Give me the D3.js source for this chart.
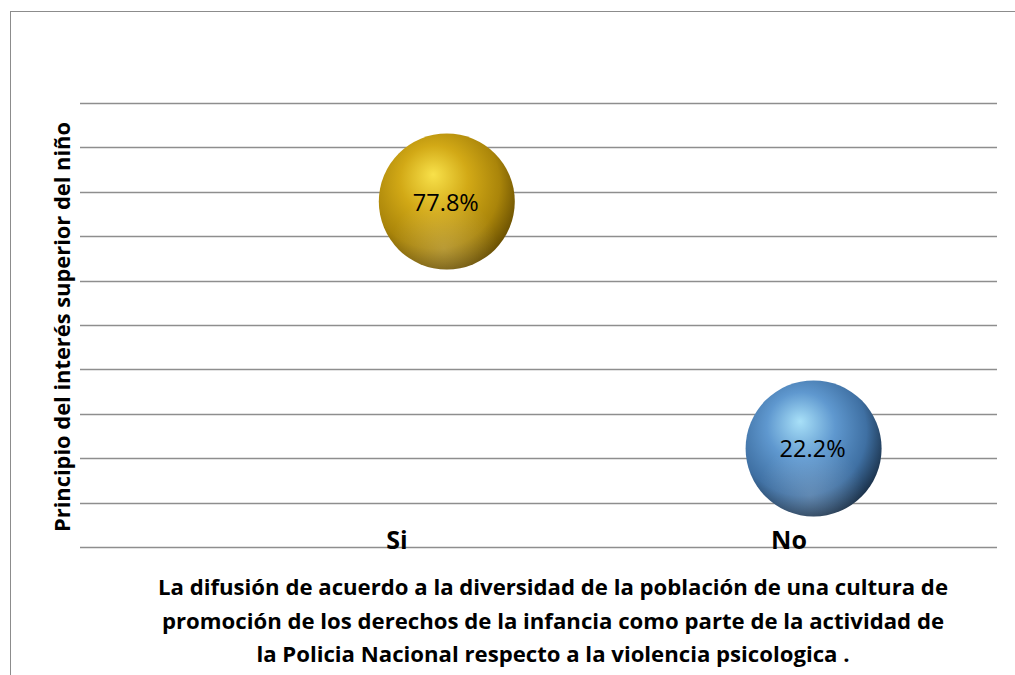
<!DOCTYPE html>
<html>
<head>
  <meta charset='utf-8'>
  <title>bubble chart</title>
  <script src="https://cdn.jsdelivr.net/npm/d3@7"></script>
  <style>
    html, body { margin: 0; padding: 0; background: #fff; }
    text { font-family: "Open Sans", Lato, sans-serif; }
  </style>
</head>
<body>
<svg id="chart" width="1015" height="675"></svg>
<script>
var categories = ['Si', 'No'];
var xPositions = [1, 2];
var labelPositions = [0.864, 1.933];
var values = [0.778, 0.222];
var labels = ['77.8%', '22.2%'];
var gridTicks = d3.range(0, 1.01, 0.1);
var titleLines = [
  'La difusión de acuerdo a la diversidad de la población de una cultura de',
  'promoción de los derechos de la infancia como parte de la actividad de',
  'la Policia Nacional respecto a la violencia psicologica .'
];
var yTitle = 'Principio del interés superior del niño';

var svg = d3.select('#chart');
var width = 1015, height = 675;
var margin = {top: 103, right: 18, bottom: 128, left: 80};

// shrink or grow a text element so it spans the wanted width
function fitWidth(sel, target) {
  sel.each(function() {
    var el = d3.select(this);
    var fs = parseFloat(el.attr('font-size'));
    var w = this.getComputedTextLength();
    el.attr('font-size', (fs * target / w).toFixed(2));
  });
}

// chart frame
svg.append('rect')
  .attr('x', 10.5).attr('y', 11.5)
  .attr('width', 1100).attr('height', 800)
  .attr('fill', 'none')
  .attr('stroke', '#8c8c8c')
  .attr('stroke-width', 1);

var x = d3.scaleLinear().domain([0, 2.5]).range([margin.left, width - margin.right]);
var y = d3.scaleLinear().domain([0, 1]).range([height - margin.bottom, margin.top]);

var g = svg.append('g');
g.selectAll('.grid')
  .data(gridTicks)
  .enter().append('line')
  .attr('class', 'grid')
  .attr('x1', x(0)).attr('x2', x(2.5))
  .attr('y1', d => Math.round(y(d)) + 0.5)
  .attr('y2', d => Math.round(y(d)) + 0.5)
  .attr('stroke', '#8e8e8e')
  .attr('stroke-width', 1.3);

// sphere gradients
var defs = svg.append('defs');
var palettes = [
  ['#f8e14a', '#d2a916', '#aa850a', '#5e4600'],
  ['#a8e0f8', '#5f98cf', '#3f70a3', '#14263a']
];
palettes.forEach(function(p, i) {
  var grad = defs.append('radialGradient')
    .attr('id', 'sph' + i)
    .attr('cx', '0.42').attr('cy', '0.4').attr('r', '0.66')
    .attr('fx', '0.4').attr('fy', '0.3');
  grad.append('stop').attr('offset', '0%').attr('stop-color', p[0]);
  grad.append('stop').attr('offset', '38%').attr('stop-color', p[1]);
  grad.append('stop').attr('offset', '72%').attr('stop-color', p[2]);
  grad.append('stop').attr('offset', '100%').attr('stop-color', p[3]);
});
var refl = defs.append('radialGradient')
  .attr('id', 'refl').attr('cx', '0.48').attr('cy', '0.85').attr('r', '0.4');
refl.append('stop').attr('offset', '0%').attr('stop-color', '#fff').attr('stop-opacity', 0.18);
refl.append('stop').attr('offset', '100%').attr('stop-color', '#fff').attr('stop-opacity', 0);

var radius = 68;
var bubbles = g.selectAll('.bubble')
  .data(values)
  .enter().append('g')
  .attr('class', 'bubble')
  .attr('transform', (d, i) => 'translate(' + x(xPositions[i]) + ',' + y(d) + ')');

bubbles.append('circle')
  .attr('r', radius)
  .attr('fill', (d, i) => 'url(#sph' + i + ')');
bubbles.append('circle')
  .attr('r', radius)
  .attr('fill', 'url(#refl)');
bubbles.append('text')
  .text((d, i) => labels[i])
  .attr('text-anchor', 'middle')
  .attr('x', -1)
  .attr('dy', '0.38em')
  .attr('font-size', 20)
  .attr('fill', '#000')
  .call(fitWidth, 66);

// category labels
g.selectAll('.cat')
  .data(categories)
  .enter().append('text')
  .attr('class', 'cat')
  .attr('x', (d, i) => x(labelPositions[i]))
  .attr('y', 549)
  .attr('text-anchor', 'middle')
  .attr('font-size', 25)
  .attr('font-weight', 'bold')
  .text(d => d);

// y axis title
svg.append('text')
  .attr('transform', 'translate(70,327) rotate(-90)')
  .attr('text-anchor', 'middle')
  .attr('font-size', 19)
  .attr('font-weight', 'bold')
  .text(yTitle)
  .call(fitWidth, 410);

// x axis title
svg.selectAll('.xtitle')
  .data(titleLines)
  .enter().append('text')
  .attr('class', 'xtitle')
  .attr('x', 553)
  .attr('y', (d, i) => 595 + i * 33.5)
  .attr('text-anchor', 'middle')
  .attr('font-size', 20)
  .attr('font-weight', 'bold')
  .text(d => d);
svg.select('.xtitle').call(fitWidth, 790);
var fs = svg.select('.xtitle').attr('font-size');
svg.selectAll('.xtitle').attr('font-size', fs);
</script>
</body>
</html>
